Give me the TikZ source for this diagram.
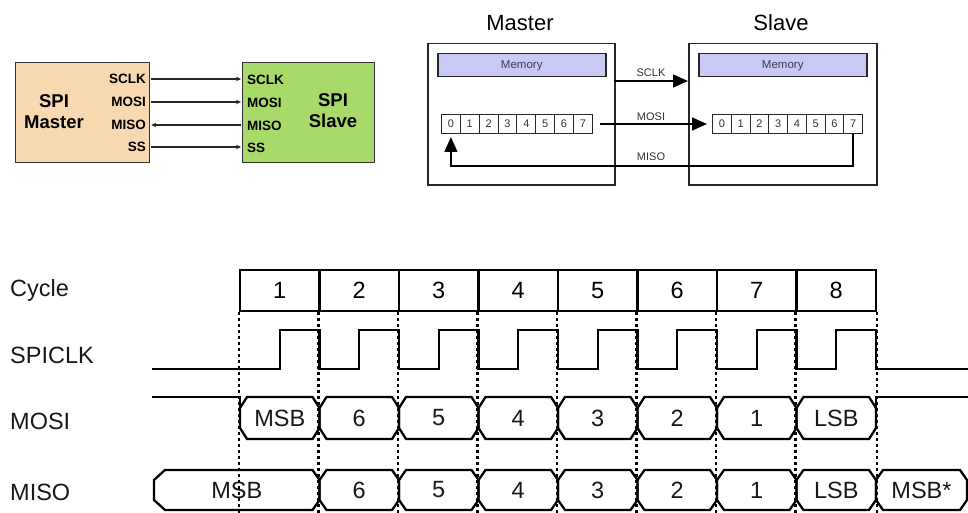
\documentclass[tikz,border=0pt]{standalone}
\usepackage{fontspec}
\setmainfont{Liberation Sans}
\usetikzlibrary{arrows.meta,calc}
\definecolor{peach}{HTML}{F8D8B0}
\definecolor{lgreen}{HTML}{A8DA6A}
\definecolor{lav}{HTML}{C9C9F6}
\definecolor{memtxt}{HTML}{3A3A55}
\newcommand\busseg[7]{%
  \draw[wave] ({#1},{(#3+#4)/2-10}) -- ({#1+#7},{#3}) -- ({#2-7},{#3}) -- ({#2},{(#3+#4)/2-10})
     -- ({#2},{(#3+#4)/2+10}) -- ({#2-7},{#4}) -- ({#1+#7},{#4}) -- ({#1},{(#3+#4)/2+10}) -- cycle;
  \node[big] (#6) at ({(#1+#2)/2},{(#3+#4)/2}) {#5};}
\begin{document}
\begin{tikzpicture}[x=1pt,y=-1pt,
  box/.style={draw=black!80,line width=1.2pt,inner sep=0pt,anchor=north west},
  tag/.style={font=\bfseries\fontsize{13.5}{15}\selectfont,inner sep=0pt},
  arrS/.style={-{Stealth[length=5pt,width=4.5pt]},line width=1.3pt,draw=black!85},
  frame/.style={draw=black!85,line width=1.5pt,inner sep=0pt,anchor=north west},
  mem/.style={draw=black!85,fill=lav,line width=1.5pt,inner sep=0pt,anchor=north west,
     minimum width=168pt,minimum height=23pt,font=\fontsize{11.5}{13}\selectfont,text=memtxt},
  cell/.style={draw=black!85,line width=1pt,inner sep=0pt,anchor=north west,fill=white,
     minimum width=18.85pt,minimum height=19pt,font=\fontsize{11}{12}\selectfont,text=black!80},
  bigarr/.style={-{Triangle[length=15pt,width=13pt]},line width=1.5pt},
  small/.style={font=\fontsize{11}{12}\selectfont,text=black!80,inner sep=1pt},
  big/.style={font=\fontsize{23.5}{26}\selectfont,inner sep=0pt,text=black!90},
  wave/.style={line width=2.3pt,line join=miter},
  cyc/.style={draw,line width=2.3pt,inner sep=0pt,minimum width=79.5pt,minimum height=41pt,
     font=\fontsize{23.5}{26}\selectfont},
  dots/.style={line width=2.6pt,dash pattern=on 2.6pt off 3.4pt}]
\useasboundingbox (0,0) rectangle (968,513);
\fill[white] (0,0) rectangle (968,513);

% ---- top-left block diagram
\node[box,fill=peach,minimum width=134pt,minimum height=100pt] (mbox) at (15,62) {};
\node[box,fill=lgreen,minimum width=132pt,minimum height=100pt] (sbox) at (242,62) {};
\node[font=\bfseries\fontsize{18.5}{21}\selectfont,align=center,inner sep=0pt] (mname) at (54,112) {SPI\\Master};
\node[font=\bfseries\fontsize{18.5}{21}\selectfont,align=center,inner sep=0pt] (sname) at (333,111) {SPI\\Slave};
\node[tag,anchor=east] (ma) at (146,79) {SCLK};
\node[tag,anchor=east] (mb) at (146,102) {MOSI};
\node[tag,anchor=east] (mc) at (146,125) {MISO};
\node[tag,anchor=east] (md) at (146,147) {SS};
\node[tag,anchor=west] (sa) at (247,80) {SCLK};
\node[tag,anchor=west] (sb) at (247,103) {MOSI};
\node[tag,anchor=west] (sc) at (247,126) {MISO};
\node[tag,anchor=west] (sd) at (247,148) {SS};
\draw[arrS] ($(ma -| mbox.east)+(1,0)$) -- ($(ma -| sbox.west)+(-1,0)$);
\draw[arrS] ($(mb -| mbox.east)+(1,0)$) -- ($(mb -| sbox.west)+(-1,0)$);
\draw[arrS] ($(mc -| sbox.west)+(-1,0)$) -- ($(mc -| mbox.east)+(1,0)$);
\draw[arrS] ($(md -| mbox.east)+(1,0)$) -- ($(md -| sbox.west)+(-1,0)$);

% ---- master / slave shift registers
\node[font=\fontsize{22}{24}\selectfont] (mtitle) at (520,23) {Master};
\node[font=\fontsize{22}{24}\selectfont] (stitle) at (781,23) {Slave};
\node[frame,minimum width=187pt,minimum height=141pt] (mmain) at (427,43) {};
\node[frame,minimum width=188pt,minimum height=141pt] (smain) at (688,43) {};
\node[mem] (mmem) at (437,53) {Memory};
\node[mem] (smem) at (698,53) {Memory};
\foreach \i in {0,...,7}{
  \node[cell] (m\i) at ({441+18.85*\i},114) {\i};
  \node[cell] (s\i) at ({712+18.75*\i},114) {\i};
}
\coordinate (sclkA) at (614,81);
\coordinate (sclkB) at (688,81);
\coordinate (mosiA) at (600,124);
\draw[bigarr] (sclkA) -- (sclkB);
\draw[bigarr,shorten >=5pt] (mosiA) -- (s0.west);
\draw[bigarr,shorten >=3pt] (s7.south) -- ++(0,32) -| (m0.south);
\node[small] (lsclk) at (651,73) {SCLK};
\node[small] (lmosi) at (651,117) {MOSI};
\node[small] (lmiso) at (651,157) {MISO};

% ---- timing diagram
\node[big,anchor=west] (tcyc) at (10,290) {Cycle};
\node[big,anchor=west] (tclk) at (10,355) {SPICLK};
\node[big,anchor=west] (tmosi) at (10,421) {MOSI};
\node[big,anchor=west] (tmiso) at (10,492) {MISO};
\foreach \i in {1,...,8}
  \node[cyc] (c\i) at ({240+79.5*(\i-0.5)},290.5) {\i};

\draw[wave] (152,369) \foreach \i in {0,...,7}{
   -- ({240+79.5*\i+39.75},369) -- ++(0,-39) -- ({240+79.5*(\i+1)},330) -- ++(0,39)} -- (968,369);

% MOSI
\draw[wave] (152,397) -- (240,397) -- (240,408);
\foreach \lab [count=\i from 0] in {MSB,6,5,4,3,2,1,LSB}{
  \busseg{240+79.5*\i}{240+79.5*(\i+1)}{397}{439}{\lab}{mo\i}{7}
}
\draw[wave] (876,408) -- (876,397) -- (968,397);

% MISO
\busseg{154}{319.5}{470}{510}{MSB}{mi0}{11}
\foreach \lab [count=\i from 1] in {6,5,4,3,2,1,LSB}{
  \busseg{240+79.5*\i}{240+79.5*(\i+1)}{470}{510}{\lab}{mi\i}{7}
}
\busseg{876}{967}{470}{510}{MSB*}{mi8}{7}

% dotted cycle boundaries
\foreach \i in {1,...,8}
  \draw[dots] (c\i.south west) -- ++(0,202);
\draw[dots] (c8.south east) -- ++(0,202);
\end{tikzpicture}
\end{document}
